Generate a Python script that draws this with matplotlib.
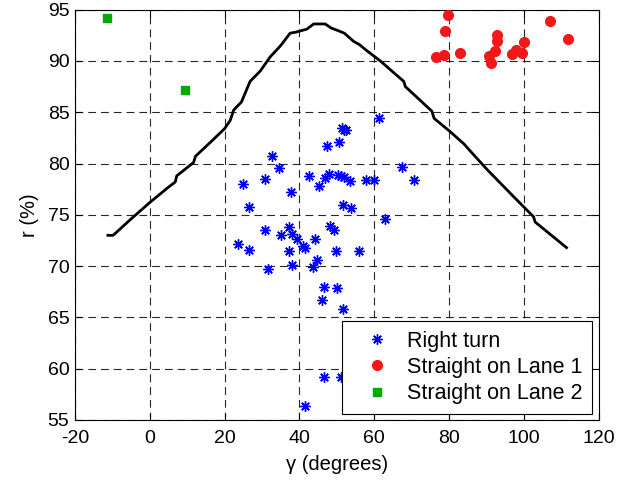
import matplotlib
matplotlib.use("Agg")
import matplotlib.pyplot as plt

plt.rcParams['font.family'] = ['Liberation Sans', 'DejaVu Sans']
plt.rcParams['axes.unicode_minus'] = False

# Black curve
curve_x = [-11.2, -9.8, -5, 0, 5, 6.8, 7.2, 11.7, 12.2, 16, 20, 21.5, 22.4, 24.5, 26.8,
           29.5, 32.2, 35, 37.5, 39, 42, 43.8, 46.9, 48.5, 50.0, 52, 54.5, 56, 58, 61.6,
           66, 67.9, 68.3, 75.4, 76, 80.3, 84, 85.7, 90.2, 96.9, 102.6, 103, 111.4]
curve_y = [73.0, 73.0, 74.6, 76.2, 77.7, 78.2, 78.8, 80.1, 80.7, 82.0, 83.4, 84.2, 85.2, 86.0, 88.0,
           89.0, 90.4, 91.5, 92.7, 92.8, 93.1, 93.6, 93.6, 93.2, 93.0, 92.7, 91.9, 91.6, 91.0, 90.0,
           88.6, 88.0, 87.5, 85.1, 84.4, 83.1, 81.9, 81.2, 79.4, 76.9, 74.8, 74.3, 71.8]

# Right turn
right_x = [61.3, 51.4, 52.0, 52.5, 50.6, 47.3, 32.6, 34.5, 67.4, 70.7, 25.0, 30.7, 37.8, 42.6,
           45.1, 46.8, 48.0, 50.2, 51.1, 52.0, 53.4, 57.8, 59.8, 26.4, 51.6, 53.7, 63.0, 30.8,
           37.3, 35.1, 38.1, 39.4, 44.2, 48.2, 49.3, 23.5, 26.4, 37.1, 40.9, 41.5, 49.7, 56.0,
           31.6, 38.1, 43.6, 44.8, 46.5, 50.0, 46.0, 51.7, 46.5, 51.1, 41.4]
right_y = [84.4, 83.5, 83.3, 83.3, 82.1, 81.7, 80.7, 79.6, 79.7, 78.4, 78.0, 78.5, 77.2, 78.8,
           77.8, 78.6, 79.0, 78.9, 78.8, 78.7, 78.3, 78.4, 78.4, 75.8, 76.0, 75.7, 74.6, 73.5,
           73.8, 73.0, 73.1, 72.6, 72.6, 73.9, 73.5, 72.2, 71.6, 71.5, 72.0, 71.8, 71.5, 71.5,
           69.7, 70.1, 69.9, 70.6, 68.0, 67.9, 66.7, 65.8, 59.2, 59.2, 56.4]

# Straight on Lane 1
lane1_x = [79.7, 79.0, 76.5, 78.7, 82.8, 92.8, 92.8, 92.2, 90.7, 91.3, 96.8, 98.0, 99.4, 99.9, 106.9, 111.7]
lane1_y = [94.5, 92.9, 90.4, 90.6, 90.8, 92.5, 91.9, 91.0, 90.5, 89.8, 90.7, 91.1, 90.8, 91.8, 93.9, 92.1]

# Straight on Lane 2
lane2_x = [-11.4, 9.35]
lane2_y = [94.2, 87.2]

xticks = [-20, 0, 20, 40, 60, 80, 100, 120]
yticks = [55, 60, 65, 70, 75, 80, 85, 90, 95]

fig = plt.figure(figsize=(6.41, 4.8), dpi=100)
ax = fig.add_axes([0.117, 0.125, 0.817, 0.855])

ax.plot(curve_x, curve_y, color='black', lw=2.0, zorder=3)
ax.plot(right_x, right_y, linestyle='none', marker=(8, 2, 0), markersize=7.5,
        markeredgewidth=1.0, color='blue', label='Right turn', zorder=4)
ax.plot(lane1_x, lane1_y, linestyle='none', marker='o', markersize=7,
        color='#f01818', markeredgecolor='#f01818', label='Straight on Lane 1', zorder=4)
ax.plot(lane2_x, lane2_y, linestyle='none', marker='s', markersize=5.5,
        color='#00aa00', markeredgecolor='#00aa00', label='Straight on Lane 2', zorder=4)

ax.set_xlim(-20, 120)
ax.set_ylim(55, 95)
ax.set_xticks(xticks)
ax.set_yticks(yticks)
ax.tick_params(direction='in', top=True, right=True, labelsize=14, length=5, width=0.8)
ax.tick_params(axis='x', pad=7)
ax.tick_params(axis='y', pad=4)
for s in ax.spines.values():
    s.set_linewidth(0.8)
ax.grid(True, color='black', linestyle=(0, (7, 4.5)), linewidth=0.8, alpha=0.85)
ax.set_axisbelow(True)

ax.set_xlabel('γ (degrees)', fontsize=14.5, labelpad=6)
ax.set_ylabel('r (%)', fontsize=14.5, labelpad=6)

leg = ax.legend(loc='lower right', fontsize=15.5, frameon=True, fancybox=False,
                edgecolor='black', framealpha=1, borderaxespad=0.3,
                handletextpad=0.2, labelspacing=0.25, borderpad=0.43, handlelength=2.4)
leg.get_frame().set_linewidth(0.8)

fig.savefig('out.png', dpi=100)
